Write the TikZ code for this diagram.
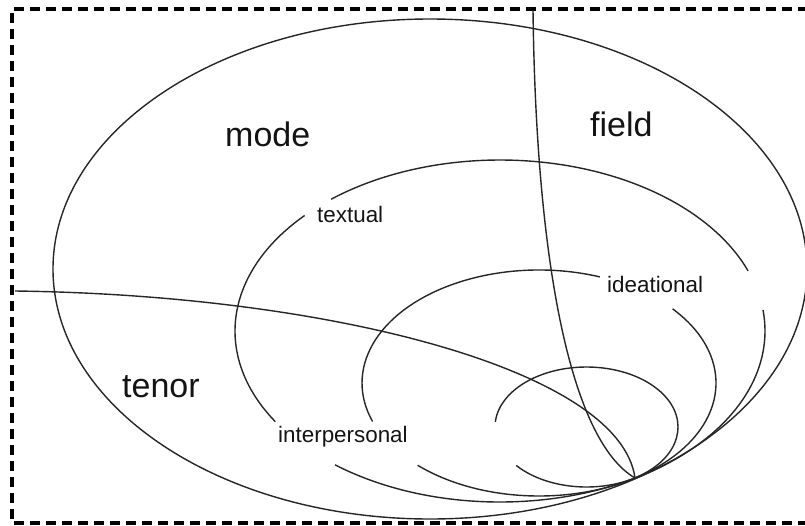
\documentclass[tikz,border=0pt]{standalone}
\usepackage{fontspec}
\setmainfont{Liberation Sans}
\begin{document}
\begin{tikzpicture}[x=1pt,y=1pt,
  curve/.style={draw=black!85,line width=1.4pt},
  frame/.style={draw=black,line width=3.2pt,dash pattern=on 10pt off 6pt},
  big/.style={anchor=base west,inner sep=0pt,font=\fontsize{34}{34}\selectfont,text=black!92},
  small/.style={anchor=base west,inner sep=0pt,font=\fontsize{22.4}{22.4}\selectfont,text=black!92}]
\useasboundingbox (0,0) rectangle (805,-525);
\draw[frame] (808,-9)--(12,-9)--(12,-523)--(808,-523);
\coordinate (P) at (635,-478);
\coordinate (c2) at (500,-331);
\coordinate (c3) at (539,-383);
\coordinate (c4) at (586.5,-427);
\draw[curve] (430,-269) ellipse[x radius=377,y radius=250];
\foreach \c/\rx/\ry/\a/\b in {c2/265/171/20.6/129.6, c2/265/171/137.5/212, c2/265/171/231.5/367.1,
  c3/177/113/69.9/199.9, c3/177/113/226.7/401, c4/91.5/60/219.8/535}
  \draw[curve] (\c) ++({\rx*cos(\a)},{\ry*sin(\a)}) arc[start angle=\a,end angle=\b,x radius=\rx,y radius=\ry];
\coordinate (top) at (533,-10);
\coordinate (left) at (15,-291);
\draw[curve] (top) .. controls (536,-260) and (570,-440) .. (P);
\draw[curve] (left) .. controls (330,-295) and (620,-370) .. (P);
\node[big] (mode) at (225,-146) {mode};
\node[big] (field) at (590,-136) {field};
\node[big] (tenor) at (122,-397) {tenor};
\node[small] (textual) at (317,-222) {textual};
\node[small] (ideational) at (607,-292) {ideational};
\node[small] (interpersonal) at (278,-442) {interpersonal};
\end{tikzpicture}
\end{document}
